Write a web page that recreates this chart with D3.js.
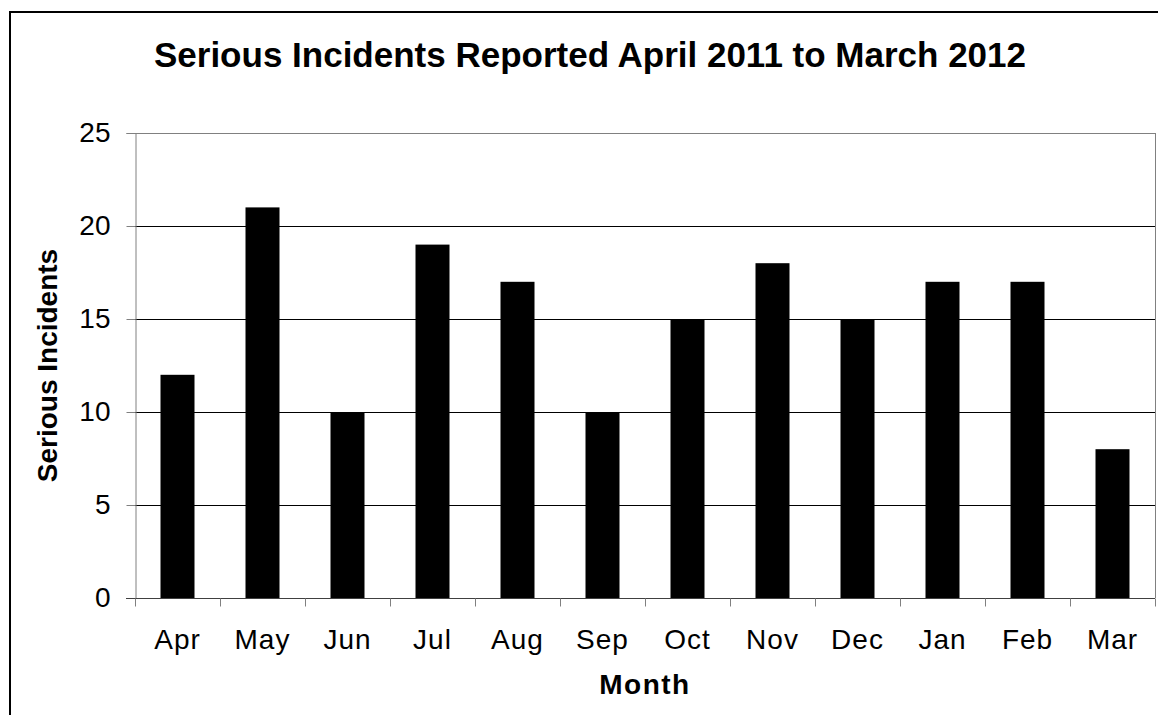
<!DOCTYPE html>
<html><head><meta charset="utf-8">
<script src="https://cdn.jsdelivr.net/npm/d3@7"></script>
<style>
html,body{margin:0;padding:0;background:#fff;overflow:hidden}
svg{display:block;font-family:"Liberation Sans",Arial,sans-serif}
</style></head>
<body>
<script>
const months = ["Apr","May","Jun","Jul","Aug","Sep","Oct","Nov","Dec","Jan","Feb","Mar"];
const incidents = [12,21,10,19,17,10,15,18,15,17,17,8];
const yTicks = [0,5,10,15,20,25];
const titleText = "Serious Incidents Reported April 2011 to March 2012";
const xTitle = "Month";
const yTitle = "Serious Incidents";

const W = 1158, H = 715;
const plot = {left:135, right:1155, top:133, bottom:598};

const svg = d3.select("body").append("svg").attr("width",W).attr("height",H);

// outer chart border (left + top)
svg.append("path").attr("d",`M10,${H} L10,12 L${W},12`).attr("fill","none").attr("stroke","#000").attr("stroke-width",2);

const x = d3.scaleBand().domain(months).range([plot.left,plot.right]).paddingInner(0.6).paddingOuter(0.3);
const xb = d3.scaleBand().domain(months).range([plot.left,plot.right]);
const y = d3.scaleLinear().domain([0,25]).range([plot.bottom,plot.top]);

// gridlines
svg.append("g").selectAll("line").data(yTicks.filter(d=>d>0)).join("line")
  .attr("x1",plot.left).attr("x2",plot.right)
  .attr("y1",d=>Math.round(y(d))+0.5).attr("y2",d=>Math.round(y(d))+0.5)
  .attr("stroke",d=>d===25?"#808080":"#000").attr("stroke-width",1);
// right border of plot
svg.append("line").attr("x1",plot.right+0.5).attr("x2",plot.right+0.5).attr("y1",plot.top).attr("y2",plot.bottom)
  .attr("stroke","#808080");

// bars
svg.append("g").selectAll("rect").data(incidents).join("rect")
  .attr("x",(d,i)=>x(months[i]))
  .attr("width",x.bandwidth())
  .attr("y",d=>y(d))
  .attr("height",d=>y(0)-y(d))
  .attr("fill","#000");

// y axis
const yAxis = d3.axisLeft(y).tickValues(yTicks).tickSize(9).tickPadding(16).tickFormat(d3.format("d"));
const gy = svg.append("g").attr("transform",`translate(${plot.left+0.5},0)`).call(yAxis);
gy.select(".domain").attr("stroke","#808080");
gy.selectAll(".tick line").attr("stroke","#808080");
gy.selectAll("text").attr("font-size",28).attr("fill","#000").attr("font-family","Liberation Sans, Arial, sans-serif");

// x axis
const gx = svg.append("g").attr("transform",`translate(0,${plot.bottom+0.5})`);
gx.append("line").attr("x1",plot.left-9).attr("x2",plot.right).attr("stroke","#404040");
gx.selectAll("line.tk").data(months.concat(["end"])).join("line").attr("class","tk")
  .attr("x1",(d,i)=>Math.round(plot.left+i*xb.step())+0.5).attr("x2",(d,i)=>Math.round(plot.left+i*xb.step())+0.5)
  .attr("y1",0).attr("y2",8).attr("stroke","#808080");
gx.selectAll("text").data(months).join("text")
  .attr("x",d=>xb(d)+xb.bandwidth()/2).attr("y",50)
  .attr("text-anchor","middle").attr("font-size",28).attr("letter-spacing",1).text(d=>d);

// titles
svg.append("text").attr("x",590).attr("y",67).attr("text-anchor","middle")
  .attr("font-size",35).attr("font-weight","bold").text(titleText);
svg.append("text").attr("x",(plot.left+plot.right)/2).attr("y",694).attr("text-anchor","middle")
  .attr("font-size",28).attr("font-weight","bold").attr("letter-spacing",1.5).text(xTitle);
svg.append("text").attr("transform",`translate(57,${(plot.top+plot.bottom)/2}) rotate(-90)`)
  .attr("text-anchor","middle").attr("font-size",28).attr("font-weight","bold").text(yTitle);
</script>
</body></html>
